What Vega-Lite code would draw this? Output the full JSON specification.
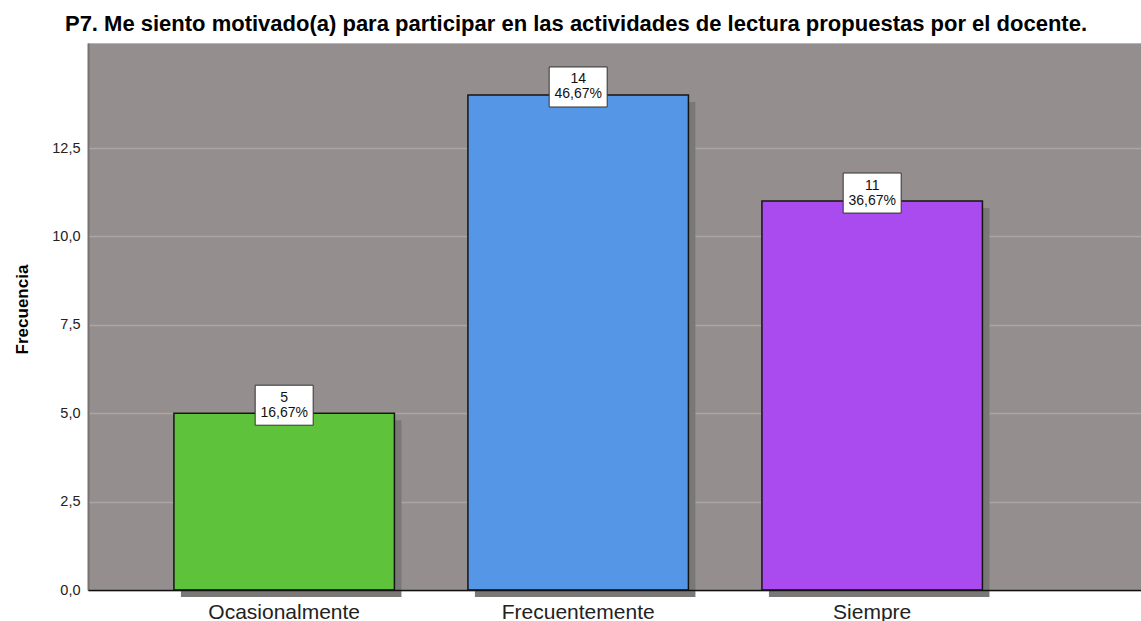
{
  "$schema": "https://vega.github.io/schema/vega-lite/v6.json",
  "width": 1054,
  "height": 547,
  "autosize": {"type": "none"},
  "padding": {"left": 88, "top": 43, "right": 0, "bottom": 31},
  "background": "white",
  "title": {
    "text": "P7. Me siento motivado(a) para participar en las actividades de lectura propuestas por el docente.",
    "font": "Liberation Sans",
    "fontSize": 22,
    "fontWeight": "bold",
    "color": "black",
    "anchor": "middle",
    "frame": "group",
    "dx": -39,
    "offset": 7
  },
  "config": {
    "view": {"fill": "#948f8e", "stroke": "#b8b5b4", "strokeWidth": 1}
  },
  "data": {
    "values": [
      {"cat": "Ocasionalmente", "count": 5, "pct": "16,67%"},
      {"cat": "Frecuentemente", "count": 14, "pct": "46,67%"},
      {"cat": "Siempre", "count": 11, "pct": "36,67%"}
    ]
  },
  "layer": [
    {
      "mark": {"type": "bar", "color": "#7a7777", "xOffset": 7, "x2Offset": 7, "yOffset": 7, "y2Offset": 7, "clip": false},
      "encoding": {
        "x": {
          "field": "cat", "type": "nominal",
          "sort": ["Ocasionalmente", "Frecuentemente", "Siempre"],
          "scale": {"paddingInner": 0.25, "paddingOuter": 0.4175, "align": 0.35},
          "axis": {
            "title": null, "domain": true, "domainColor": "#111111", "domainWidth": 1.5,
            "ticks": false, "labelAngle": 0, "zindex": 1,
            "labelFont": "Liberation Sans", "labelFontSize": 21, "labelColor": "#222222",
            "labelPadding": 11
          }
        },
        "y": {
          "field": "count", "type": "quantitative",
          "scale": {"domain": [0, 15.47], "nice": false, "zero": true},
          "axis": {
            "title": "Frecuencia",
            "titleFont": "Liberation Sans", "titleFontSize": 17, "titleFontWeight": "bold", "titleColor": "black",
            "titleAngle": 270, "titleBaseline": "middle", "titleX": -66, "titleY": 266,
            "values": [0, 2.5, 5, 7.5, 10, 12.5],
            "labelExpr": "replace(format(datum.value, '.1f'), '.', ',')",
            "labelFont": "Liberation Sans", "labelFontSize": 14.5, "labelColor": "#222222",
            "labelPadding": 8, "ticks": false,
            "domain": true, "domainColor": "#767372", "domainWidth": 2,
            "grid": true, "gridColor": "#aaa6a5", "gridWidth": 1.5
          }
        }
      }
    },
    {
      "mark": {"type": "bar", "stroke": "#151515", "strokeWidth": 1.5},
      "encoding": {
        "x": {"field": "cat", "type": "nominal", "sort": ["Ocasionalmente", "Frecuentemente", "Siempre"]},
        "y": {"field": "count", "type": "quantitative"},
        "color": {
          "field": "cat", "type": "nominal", "legend": null,
          "scale": {"domain": ["Ocasionalmente", "Frecuentemente", "Siempre"], "range": ["#5ec23a", "#5596e6", "#a94bef"]}
        }
      }
    },
    {
      "mark": {"type": "point", "shape": "M-1,-0.69L1,-0.69L1,0.69L-1,0.69Z", "size": 3364, "filled": true, "fill": "white", "stroke": "#333333", "strokeWidth": 1, "opacity": 1, "yOffset": -8},
      "encoding": {
        "x": {"field": "cat", "type": "nominal", "sort": ["Ocasionalmente", "Frecuentemente", "Siempre"]},
        "y": {"field": "count", "type": "quantitative"}
      }
    },
    {
      "mark": {"type": "text", "font": "Liberation Sans", "fontSize": 14, "color": "#111111", "baseline": "middle", "yOffset": -15.5},
      "encoding": {
        "x": {"field": "cat", "type": "nominal", "sort": ["Ocasionalmente", "Frecuentemente", "Siempre"]},
        "y": {"field": "count", "type": "quantitative"},
        "text": {"field": "count", "type": "quantitative", "format": "d"}
      }
    },
    {
      "mark": {"type": "text", "font": "Liberation Sans", "fontSize": 14, "color": "#111111", "baseline": "middle", "yOffset": -0.5},
      "encoding": {
        "x": {"field": "cat", "type": "nominal", "sort": ["Ocasionalmente", "Frecuentemente", "Siempre"]},
        "y": {"field": "count", "type": "quantitative"},
        "text": {"field": "pct", "type": "nominal"}
      }
    }
  ]
}
